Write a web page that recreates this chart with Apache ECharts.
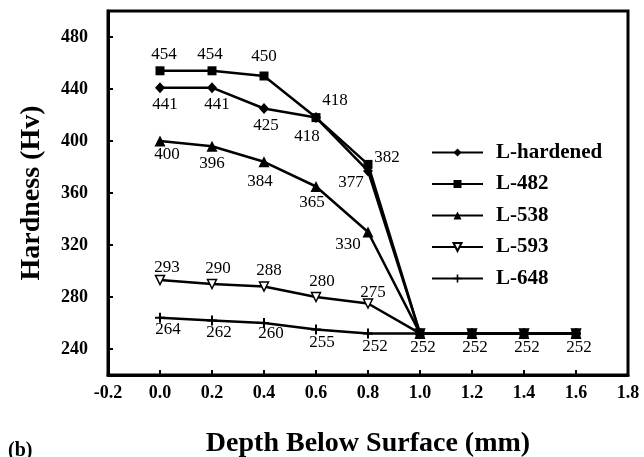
<!DOCTYPE html>
<html><head><meta charset="utf-8">
<script src="https://cdn.jsdelivr.net/npm/echarts@6/dist/echarts.min.js"></script>
<style>html,body{margin:0;padding:0;background:#fff}#c{width:644px;height:457px}</style>
</head><body><div id="c"></div>
<script>
const depths = [0.0, 0.2, 0.4, 0.6, 0.8, 1.0, 1.2, 1.4, 1.6];
const seriesNames = ['L-hardened', 'L-482', 'L-538', 'L-593', 'L-648'];
const lHardened = [441, 441, 425, 418, 377, 252, 252, 252, 252];
const l482 = [454, 454, 450, 418, 382, 252, 252, 252, 252];
const l538 = [400, 396, 384, 365, 330, 252, 252, 252, 252];
const l593 = [293, 290, 288, 280, 275, 252, 252, 252, 252];
const l648 = [264, 262, 260, 255, 252, 252, 252, 252, 252];
const yTicks = [240, 280, 320, 360, 400, 440, 480];

const FONT = '"Liberation Serif","Times New Roman",serif';

// label offsets (px) per point; missing = no label
const labelOffsets = {
  'L-hardened': [[5,17],[5,17],[2,17],[-9,19],[-17,12]],
  'L-482': [[4,-16],[-2,-16],[0,-19],[19,-17],[19,-7]],
  'L-538': [[7,14],[0,17],[-4,20],[-4,16],[-20,13]],
  'L-593': [[7,-13],[6,-15],[5,-16],[6,-15],[5,-11]],
  'L-648': [[8,12],[7,12],[7,11],[6,13],[7,13],[3,14],[3,14],[3,14],[3,14]]
};

const seriesVals = {'L-hardened': lHardened, 'L-482': l482, 'L-538': l538, 'L-593': l593, 'L-648': l648};

const symbols = {
  'L-hardened': {symbol: 'diamond', symbolSize: [10, 11], itemStyle: {color: '#000'}, z: 4},
  'L-482': {symbol: 'rect', symbolSize: 9, itemStyle: {color: '#000'}, z: 5},
  'L-538': {symbol: 'triangle', symbolSize: 11, itemStyle: {color: '#000'}, z: 3},
  'L-593': {symbol: 'triangle', symbolRotate: 180, symbolSize: 9, itemStyle: {color: '#fff', borderColor: '#000', borderWidth: 1.5}, z: 2},
  'L-648': {symbol: 'path://M4,0h2v10h-2z M0,4h10v2h-10z', symbolSize: 10, itemStyle: {color: '#000'}, z: 6}
};

function buildSeries(name) {
  const vals = seriesVals[name];
  const offs = labelOffsets[name];
  return Object.assign({
    name: name,
    type: 'line',
    lineStyle: {color: '#000', width: 2.5},
    label: {show: false, position: 'inside', fontFamily: FONT, fontSize: 17, color: '#000',
      formatter: p => String(p.value[1])},
    data: depths.map((d, i) => {
      const item = {value: [d, vals[i]]};
      if (offs[i]) item.label = {show: true, offset: offs[i]};
      return item;
    })
  }, symbols[name]);
}

const chart = echarts.init(document.getElementById('c'));
chart.setOption({
  backgroundColor: '#fff',
  animation: false,
  grid: {left: 108, right: 16, top: 11, bottom: 82, show: true, borderColor: '#000', borderWidth: 3,
    containLabel: false, outerBoundsMode: 'none'},
  legend: {
    orient: 'vertical', left: 426, top: 137, itemWidth: 51, itemHeight: 10, itemGap: 10.5,
    data: seriesNames,
    textStyle: {fontFamily: FONT, fontWeight: 'bold', fontSize: 21, color: '#000', padding: [0, 0, 0, 8]}
  },
  xAxis: {
    type: 'value', min: -0.2, max: 1.8, interval: 0.2,
    axisLine: {onZero: false, lineStyle: {color: '#000', width: 3}},
    axisTick: {inside: true, length: 5, lineStyle: {color: '#000', width: 2}},
    axisLabel: {formatter: v => v.toFixed(1), fontFamily: FONT, fontWeight: 'bold', fontSize: 18, color: '#000', margin: 9},
    splitLine: {show: false},
    name: 'Depth Below Surface (mm)', nameLocation: 'middle', nameGap: 55,
    nameTextStyle: {fontFamily: FONT, fontWeight: 'bold', fontSize: 28, color: '#000'}
  },
  yAxis: {
    type: 'value', min: 220, max: 500,
    axisLine: {show: true, onZero: false, lineStyle: {color: '#000', width: 3}},
    axisTick: {show: true, inside: true, length: 5, customValues: yTicks, lineStyle: {color: '#000', width: 2}},
    axisLabel: {customValues: yTicks, fontFamily: FONT, fontWeight: 'bold', fontSize: 18, color: '#000', margin: 20},
    splitLine: {show: false},
    name: 'Hardness (Hv)', nameLocation: 'middle', nameGap: 62,
    nameTextStyle: {fontFamily: FONT, fontWeight: 'bold', fontSize: 28, color: '#000'}
  },
  graphic: [{type: 'text', left: 8, top: 441, style: {text: '(b)', font: 'bold 20px ' + FONT, fill: '#000'}}],
  series: seriesNames.map(buildSeries)
});
</script></body></html>
